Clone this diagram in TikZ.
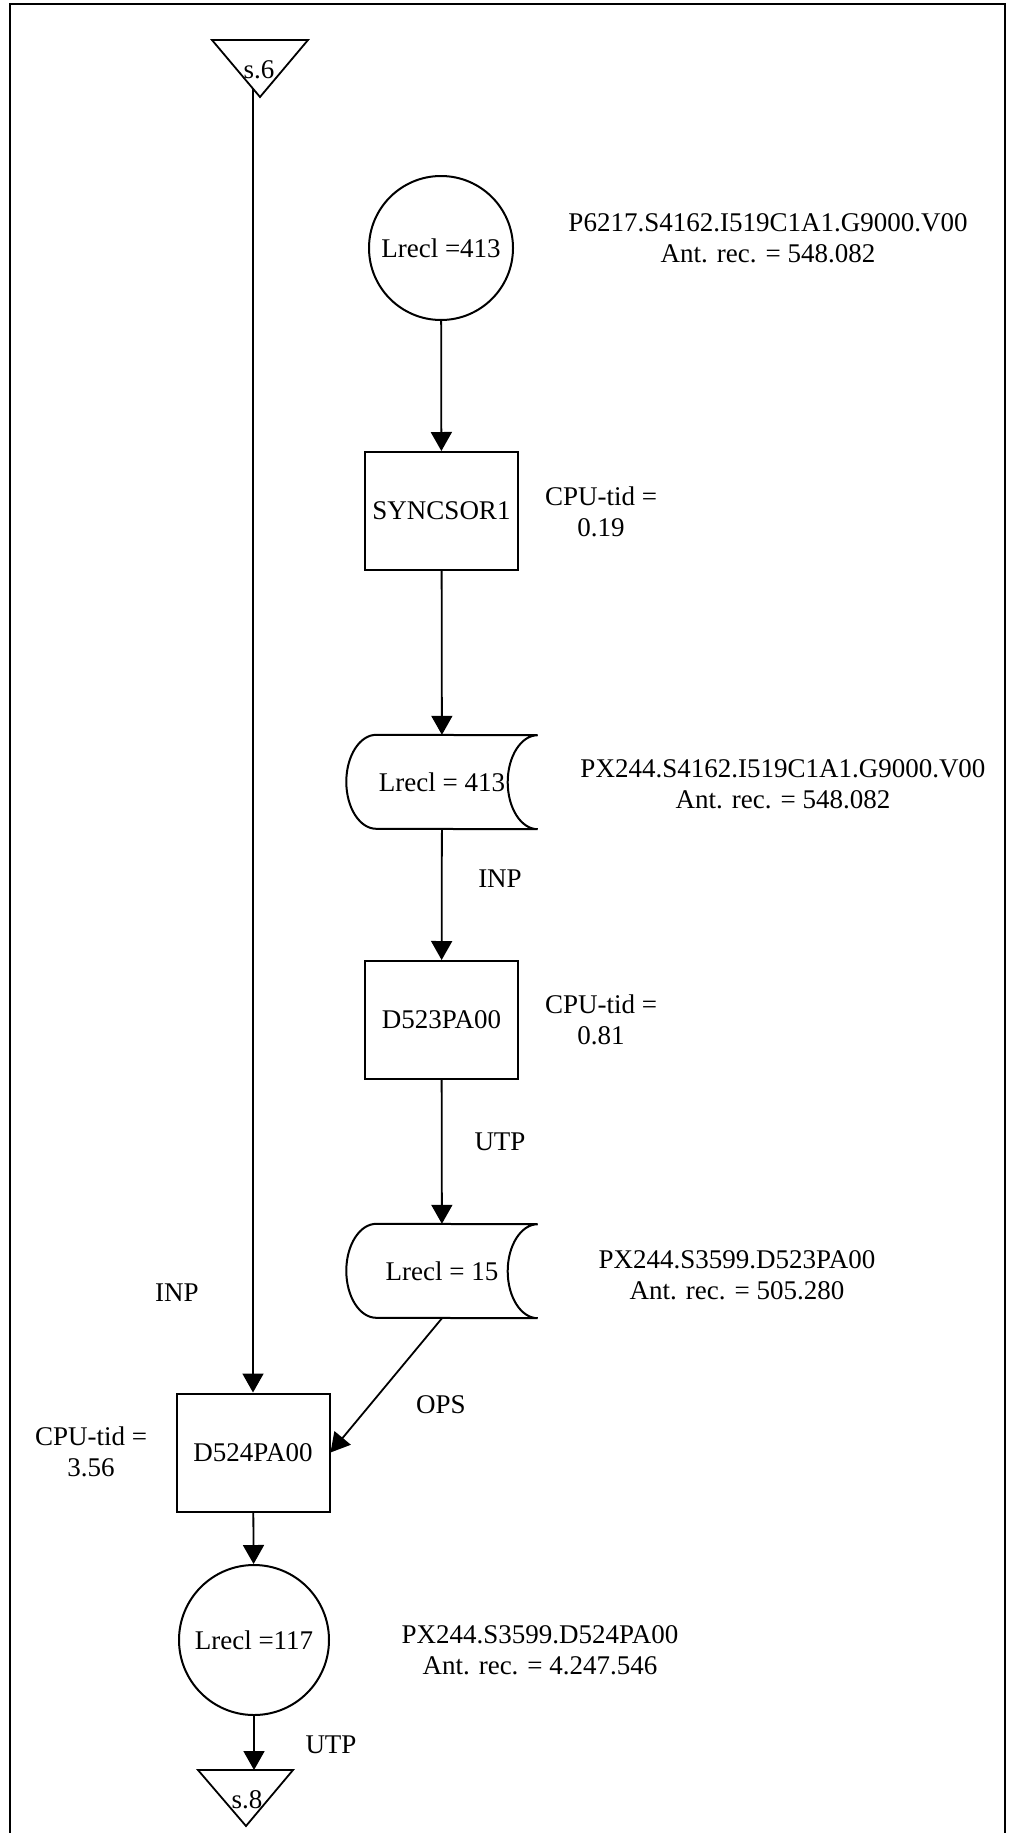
\documentclass[tikz,border=0pt]{standalone}
\usepackage{fontspec}
\setmainfont{Liberation Serif}
\usetikzlibrary{arrows.meta}
\begin{document}
\begin{tikzpicture}[x=1pt,y=-1pt,
  every node/.style={font=\fontsize{27}{31}\selectfont, inner sep=0pt},
  ln/.style={line width=1.8pt},
  arr/.style={line width=1.8pt, -{Triangle[length=19pt,width=21pt]}},
  proc/.style={draw, line width=2pt, minimum width=153pt, minimum height=118pt},
  store/.style={draw, circle, line width=2pt, minimum size=144pt},
  tape/.style={minimum width=191pt, minimum height=94pt},
  lbl/.style={align=center}]
\useasboundingbox (0,0) rectangle (1009,1833);
\draw[line width=2.5pt] (10,1833) -- (10,4) -- (1005,4) -- (1005,1833);

% off-page connectors
\draw[ln] (212,40) -- (308,40) -- (260,97) -- cycle;
\node (s6) at (259,70) {s.6};
\coordinate (t1out) at (253,89);
\draw[ln] (198,1770) -- (293,1770) -- (246,1826) -- cycle;
\node (s8) at (247,1800) {s.8};
\coordinate (t2in) at (254,1770);

% nodes
\node[store] (c1) at (441,248) {Lrecl =413};
\node[proc] (b1) at (441.5,511) {SYNCSOR1};
\node[tape] (t1) at (442,782) {Lrecl = 413};
\node[proc] (b2) at (441.5,1020) {D523PA00};
\node[tape] (t2) at (442,1271) {Lrecl = 15};
\node[proc] (b3) at (253,1452.5) {D524PA00};
\node[store, minimum size=150pt] (c2) at (254,1640) {Lrecl =117};

% tape outlines
\foreach \t in {t1,t2}{
  \draw[line width=2pt] ([xshift=30pt]\t.north west)
     arc[start angle=270, end angle=90, x radius=30, y radius=47]
     -- (\t.south east)
     arc[start angle=90, end angle=270, x radius=30, y radius=47]
     -- cycle;
}

% labels
\node[lbl] (l1) at (768,238) {P6217.S4162.I519C1A1.G9000.V00\\Ant. rec. = 548.082};
\node[lbl] (cpu1) at (601,512) {CPU-tid =\\0.19};
\node[lbl] (l2) at (783,784) {PX244.S4162.I519C1A1.G9000.V00\\Ant. rec. = 548.082};
\node (inp1) at (500,879) {INP};
\node[lbl] (cpu2) at (601,1020) {CPU-tid =\\0.81};
\node (utp1) at (500,1142) {UTP};
\node[lbl] (l3) at (737,1275) {PX244.S3599.D523PA00\\Ant. rec. = 505.280};
\node (inp2) at (177,1293) {INP};
\node (ops) at (441,1405) {OPS};
\node[lbl] (cpu3) at (91,1452) {CPU-tid =\\3.56};
\node[lbl] (l4) at (540,1650) {PX244.S3599.D524PA00\\Ant. rec. = 4.247.546};
\node (utp2) at (331,1745) {UTP};

% connectors
\draw[arr] (c1) -- (b1);
\draw[arr] (b1) -- (t1);
\draw[arr] (t1) -- (b2);
\draw[arr] (b2) -- (t2);
\draw[arr] (t2.south) -- (b3.east);
\draw[arr] (t1out) -- (b3.north);
\draw[arr] (b3) -- (c2);
\draw[arr] (c2.south) -- (t2in);
\end{tikzpicture}
\end{document}
